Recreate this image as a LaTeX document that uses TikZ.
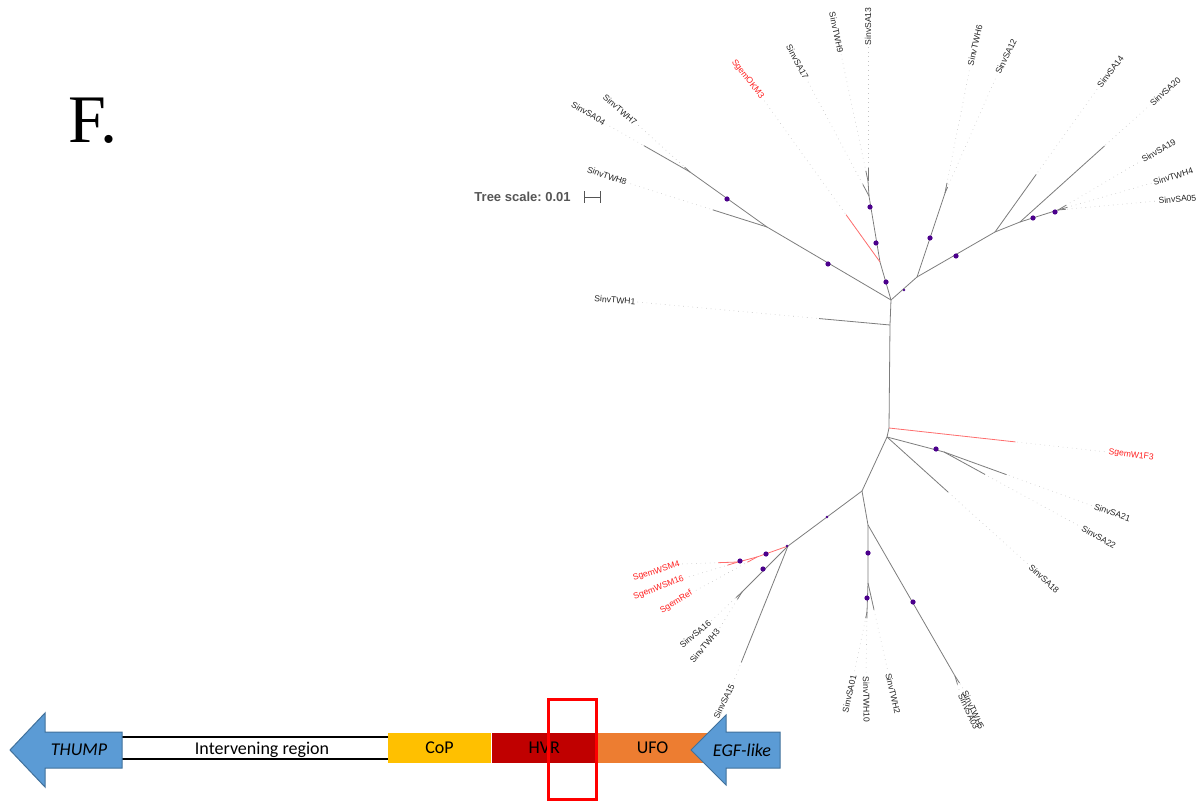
\documentclass[tikz,border=0pt]{standalone}
\usepackage{fontspec}
\setmainfont{Liberation Sans}
\newfontfamily\genefont{Carlito}
\newfontfamily\panelfont{Liberation Serif}
\usepackage{xcolor}
\usepackage{tikz}
\usetikzlibrary{positioning, calc}
\definecolor{geneblue}{RGB}{91,155,213}
\definecolor{geneblueline}{RGB}{65,113,156}
\definecolor{copyellow}{RGB}{255,192,0}
\definecolor{hvrred}{RGB}{192,0,0}
\definecolor{ufoorange}{RGB}{237,125,49}
\definecolor{boxred}{RGB}{255,0,0}
\definecolor{brgray}{RGB}{125,125,125}
\definecolor{brred}{RGB}{255,110,110}
\definecolor{guidegray}{RGB}{195,195,195}
\definecolor{dotpurple}{RGB}{75,0,140}
\definecolor{tipblack}{RGB}{35,35,35}
\definecolor{tipred}{RGB}{255,30,30}
\definecolor{scalegray}{RGB}{85,85,85}
\frenchspacing
\newcommand{\leaffont}{\fontsize{4.3}{5}\selectfont}
\newcommand{\genesize}{\genefont\fontsize{9}{11}\selectfont}
\tikzstyle{branch} = [draw=brgray, line width=0.4pt]
\tikzstyle{redbranch} = [draw=brred, line width=0.4pt]
\tikzstyle{guide} = [draw=guidegray, dotted, line width=0.3pt]
\tikzstyle{leaflabel} = [inner sep=0.6pt, font=\leaffont, text=tipblack]
\tikzstyle{redlabel} = [leaflabel, text=tipred]
\tikzstyle{support} = [circle, fill=dotpurple, inner sep=0pt, minimum size=2.6pt]
\tikzstyle{smallsupport} = [support, minimum size=1.4pt]
\tikzstyle{segment} = [rectangle, minimum height=15pt, inner sep=0pt, font=\genesize]
\tikzstyle{genelabel} = [inner sep=0pt, font=\genesize]
\tikzstyle{genearrow} = [fill=geneblue, draw=geneblueline, line width=0.5pt]

\begin{document}
\begin{tikzpicture}[x=0.5pt, y=-0.5pt]
    \useasboundingbox (0,0) rectangle (1200,802);

    % Panel letter and scale
    \node (panel) [anchor=base, font=\panelfont\fontsize{34}{40}\selectfont] at (93,143) {F.};
    \node (scale) [anchor=east, inner sep=0pt, text=scalegray, font=\bfseries\fontsize{6.5}{8}\selectfont] at (571,197) {Tree scale: 0.01};
    \coordinate (sbL) at (584,197);
    \coordinate (sbR) at (601,197);
    \draw [draw=scalegray, line width=0.4pt, |-|] (sbL) -- (sbR);

    % Trunk and internal nodes
    \coordinate (t1) at (891,300);
    \coordinate (t2) at (890,325);
    \coordinate (t3) at (889,428);
    \coordinate (t4) at (887,437);
    \coordinate (L1) at (767,227);
    \coordinate (L2) at (690,172);
    \coordinate (U1) at (880,262);
    \coordinate (U2) at (869,196);
    \coordinate (U3) at (868,181);
    \coordinate (R1) at (917,277);
    \coordinate (R2) at (945,193);
    \coordinate (R3) at (995,232);
    \coordinate (R4) at (1020,222);
    \coordinate (R5) at (1058,210);
    \coordinate (S2) at (944,452);
    \coordinate (S3) at (862,491);
    \coordinate (S4) at (868,525);
    \coordinate (S5) at (868,583);
    \coordinate (S6) at (867,612);
    \coordinate (S7) at (955,676);
    \coordinate (S8) at (788,546);
    \coordinate (G1) at (757,557);
    \coordinate (G2) at (738,562);
    \coordinate (B1) at (742,592);

    % Leaf labels, top left
    \node (lTWH8) [leaflabel, anchor=east, rotate=-19] at (628,183) {SinvTWH8};
    \node (lSA04) [leaflabel, anchor=east, rotate=-31] at (606,124) {SinvSA04};
    \node (lTWH7) [leaflabel, anchor=east, rotate=-40] at (637,124) {SinvTWH7};
    \node (lTWH1) [leaflabel, anchor=east, rotate=-5] at (637,302) {SinvTWH1};
    % top
    \node (lOKM3) [redlabel, anchor=east, rotate=-52] at (763,99) {SgemOKM3};
    \node (lSA17) [leaflabel, anchor=east, rotate=-62] at (807,80) {SinvSA17};
    \node (lTWH9) [leaflabel, anchor=east, rotate=-78] at (841,54) {SinvTWH9};
    \node (lSA13) [leaflabel, anchor=west, rotate=90] at (868,47) {SinvSA13};
    % top right
    \node (lTWH6) [leaflabel, anchor=west, rotate=77] at (970,67) {SinvTWH6};
    \node (lSA12) [leaflabel, anchor=west, rotate=64] at (997,75) {SinvSA12};
    \node (lSA14) [leaflabel, anchor=west, rotate=53] at (1098,88) {SinvSA14};
    \node (lSA20) [leaflabel, anchor=west, rotate=42] at (1150,105) {SinvSA20};
    \node (lSA19) [leaflabel, anchor=west, rotate=30] at (1141,161) {SinvSA19};
    \node (lTWH4) [leaflabel, anchor=west, rotate=17] at (1152,183) {SinvTWH4};
    \node (lSA05) [leaflabel, anchor=west, rotate=5] at (1157,201) {SinvSA05};
    % bottom right
    \node (lW1F3) [redlabel, anchor=west, rotate=-7] at (1107,452) {SgemW1F3};
    \node (lSA21) [leaflabel, anchor=west, rotate=-19] at (1093,506) {SinvSA21};
    \node (lSA22) [leaflabel, anchor=west, rotate=-30] at (1081,527) {SinvSA22};
    \node (lSA18) [leaflabel, anchor=west, rotate=-43] at (1029,565) {SinvSA18};
    % bottom
    \node (lTWH2) [leaflabel, anchor=west, rotate=-77] at (888,672) {SinvTWH2};
    \node (lTWH10) [leaflabel, anchor=west, rotate=-89] at (866,675) {SinvTWH10};
    \node (lSA01) [leaflabel, anchor=east, rotate=77] at (854,674) {SinvSA01};
    \node (lTWH5) [leaflabel, anchor=west, rotate=-65] at (964,690) {SinvTWH5};
    \node (lSA03) [leaflabel, anchor=west, rotate=-65] at (960,693) {SinvSA03};
    % bottom left
    \node (lSA15) [leaflabel, anchor=east, rotate=64] at (733,683) {SinvSA15};
    \node (lWSM4) [redlabel, anchor=east, rotate=17] at (681,564) {SgemWSM4};
    \node (lWSM16) [redlabel, anchor=east, rotate=21] at (685,578) {SgemWSM16};
    \node (lRef) [redlabel, anchor=east, rotate=31] at (693,592) {SgemRef};
    \node (lSA16) [leaflabel, anchor=east, rotate=40] at (711,621) {SinvSA16};
    \node (lTWH3) [leaflabel, anchor=east, rotate=50] at (719,629) {SinvTWH3};

    % Internal branches
    \draw [branch] (t1) -- (t2) -- (t3) -- (t4);
    \draw [branch] (t1) -- (L1) -- (L2);
    \draw [branch] (t1) -- (U1) -- (U2) -- (U3);
    \draw [branch] (t1) -- (R1) -- (R2);
    \draw [branch] (R1) -- (R3) -- (R4) -- (R5);
    \draw [branch] (t4) -- (S2);
    \draw [branch] (t4) -- (S3) -- (S4) -- (S5) -- (S6);
    \draw [branch] (S4) -- (S7);
    \draw [branch] (S3) -- (S8) -- (B1);
    \draw [redbranch] (S8) -- (G1) -- (G2);

    % Leaf branches: dotted guide, solid part
    \draw [guide] (L1) -- (lTWH8.east);  \draw [branch] (L1) -- ($(L1)!.39!(lTWH8.east)$);
    \draw [guide] (L2) -- (lSA04.east);  \draw [branch] (L2) -- ($(L2)!.55!(lSA04.east)$);
    \draw [guide] (L2) -- (lTWH7.east);  \draw [branch] (L2) -- ($(L2)!.1!(lTWH7.east)$);
    \draw [guide] (t2) -- (lTWH1.east);  \draw [branch] (t2) -- ($(t2)!.28!(lTWH1.east)$);
    \draw [guide] (U1) -- (lOKM3.east);  \draw [redbranch] (U1) -- ($(U1)!.29!(lOKM3.east)$);
    \draw [guide] (U2) -- (lSA17.east);  \draw [branch] (U2) -- ($(U2)!.1!(lSA17.east)$);
    \draw [guide] (U3) -- (lTWH9.east);  \draw [branch] (U3) -- ($(U3)!.08!(lTWH9.east)$);
    \draw [guide] (U3) -- (lSA13.west);  \draw [branch] (U3) -- ($(U3)!.1!(lSA13.west)$);
    \draw [guide] (R2) -- (lTWH6.west);  \draw [branch] (R2) -- ($(R2)!.08!(lTWH6.west)$);
    \draw [guide] (R2) -- (lSA12.west);  \draw [branch] (R2) -- ($(R2)!.05!(lSA12.west)$);
    \draw [guide] (R3) -- (lSA14.west);  \draw [branch] (R3) -- ($(R3)!.4!(lSA14.west)$);
    \draw [guide] (R4) -- (lSA20.west);  \draw [branch] (R4) -- ($(R4)!.65!(lSA20.west)$);
    \draw [guide] (R5) -- (lSA19.west);  \draw [branch] (R5) -- ($(R5)!.1!(lSA19.west)$);
    \draw [guide] (R5) -- (lTWH4.west);  \draw [branch] (R5) -- ($(R5)!.1!(lTWH4.west)$);
    \draw [guide] (R5) -- (lSA05.west);  \draw [branch] (R5) -- ($(R5)!.08!(lSA05.west)$);
    \draw [guide] (t3) -- (lW1F3.west);  \draw [redbranch] (t3) -- ($(t3)!.58!(lW1F3.west)$);
    \draw [guide] (S2) -- (lSA21.west);  \draw [branch] (S2) -- ($(S2)!.42!(lSA21.west)$);
    \draw [guide] (S2) -- (lSA22.west);  \draw [branch] (S2) -- ($(S2)!.3!(lSA22.west)$);
    \draw [guide] (t4) -- (lSA18.west);  \draw [branch] (t4) -- ($(t4)!.43!(lSA18.west)$);
    \draw [guide] (S5) -- (lTWH2.west);  \draw [branch] (S5) -- ($(S5)!.3!(lTWH2.west)$);
    \draw [guide] (S6) -- (lTWH10.west); \draw [branch] (S6) -- ($(S6)!.1!(lTWH10.west)$);
    \draw [guide] (S6) -- (lSA01.east);  \draw [branch] (S6) -- ($(S6)!.1!(lSA01.east)$);
    \draw [guide] (S7) -- (lTWH5.west);  \draw [branch] (S7) -- ($(S7)!.5!(lTWH5.west)$);
    \draw [guide] (S7) -- (lSA03.west);  \draw [branch] (S7) -- ($(S7)!.5!(lSA03.west)$);
    \draw [guide] (S8) -- (lSA15.east);  \draw [branch] (S8) -- ($(S8)!.85!(lSA15.east)$);
    \draw [guide] (G2) -- (lWSM4.east);  \draw [redbranch] (G2) -- ($(G2)!.35!(lWSM4.east)$);
    \draw [guide] (G2) -- (lWSM16.east); \draw [redbranch] (G2) -- ($(G2)!.2!(lWSM16.east)$);
    \draw [guide] (G1) -- (lRef.east);   \draw [redbranch] (G1) -- ($(G1)!.15!(lRef.east)$);
    \draw [guide] (B1) -- (lSA16.east);  \draw [branch] (B1) -- ($(B1)!.2!(lSA16.east)$);
    \draw [guide] (B1) -- (lTWH3.east);  \draw [branch] (B1) -- ($(B1)!.2!(lTWH3.east)$);

    % Support symbols
    \node (bs1) [support] at (828,264) {};
    \node (bs2) [support] at (727,199) {};
    \node (bs3) [support] at (886,282) {};
    \node (bs4) [support] at (876,243) {};
    \node (bs5) [support] at (870,207) {};
    \node (bs6) [smallsupport] at (904,290) {};
    \node (bs7) [support] at (930,238) {};
    \node (bs8) [support] at (956,256) {};
    \node (bs9) [support] at (1033,218) {};
    \node (bs10) [support] at (1055,212) {};
    \node (bs11) [support] at (936,449) {};
    \node (bs12) [support] at (868,553) {};
    \node (bs13) [support] at (867,598) {};
    \node (bs14) [support] at (913,602) {};
    \node (bs15) [smallsupport] at (827,517) {};
    \node (bs16) [smallsupport] at (787,546) {};
    \node (bs17) [support] at (766,554) {};
    \node (bs18) [support] at (740,561) {};
    \node (bs19) [support] at (763,569) {};

    % Gene map
    \draw [line width=0.7pt] (122,737) -- (388,737);
    \draw [line width=0.7pt] (122,759) -- (388,759);
    \node (interv) [genelabel] at (262,750) {Intervening region};
    \node (cop) [segment, fill=copyellow, minimum width=51.5pt] at (439.5,748) {CoP};
    \node (hvr) [segment, fill=hvrred, minimum width=52.5pt, right=0pt of cop] {HVR};
    \node (ufo) [segment, fill=ufoorange, minimum width=55pt, right=0pt of hvr] {UFO};
    \draw [genearrow] (10,750) -- (45,713) -- (45,732) -- (122,732) -- (122,768) -- (45,768) -- (45,787) -- cycle;
    \node (thump) [genelabel, font=\genesize\itshape] at (79,750) {THUMP};
    \draw [genearrow] (691,750) -- (726,715) -- (726,732) -- (780,732) -- (780,768) -- (726,768) -- (726,785) -- cycle;
    \node (egf) [genelabel, font=\genesize\itshape] at (742,750) {EGF-like};
    \node (window) [draw=boxred, line width=1.5pt, minimum width=24pt, minimum height=50pt, inner sep=0pt] at (572,749) {};

\end{tikzpicture}
\end{document}
